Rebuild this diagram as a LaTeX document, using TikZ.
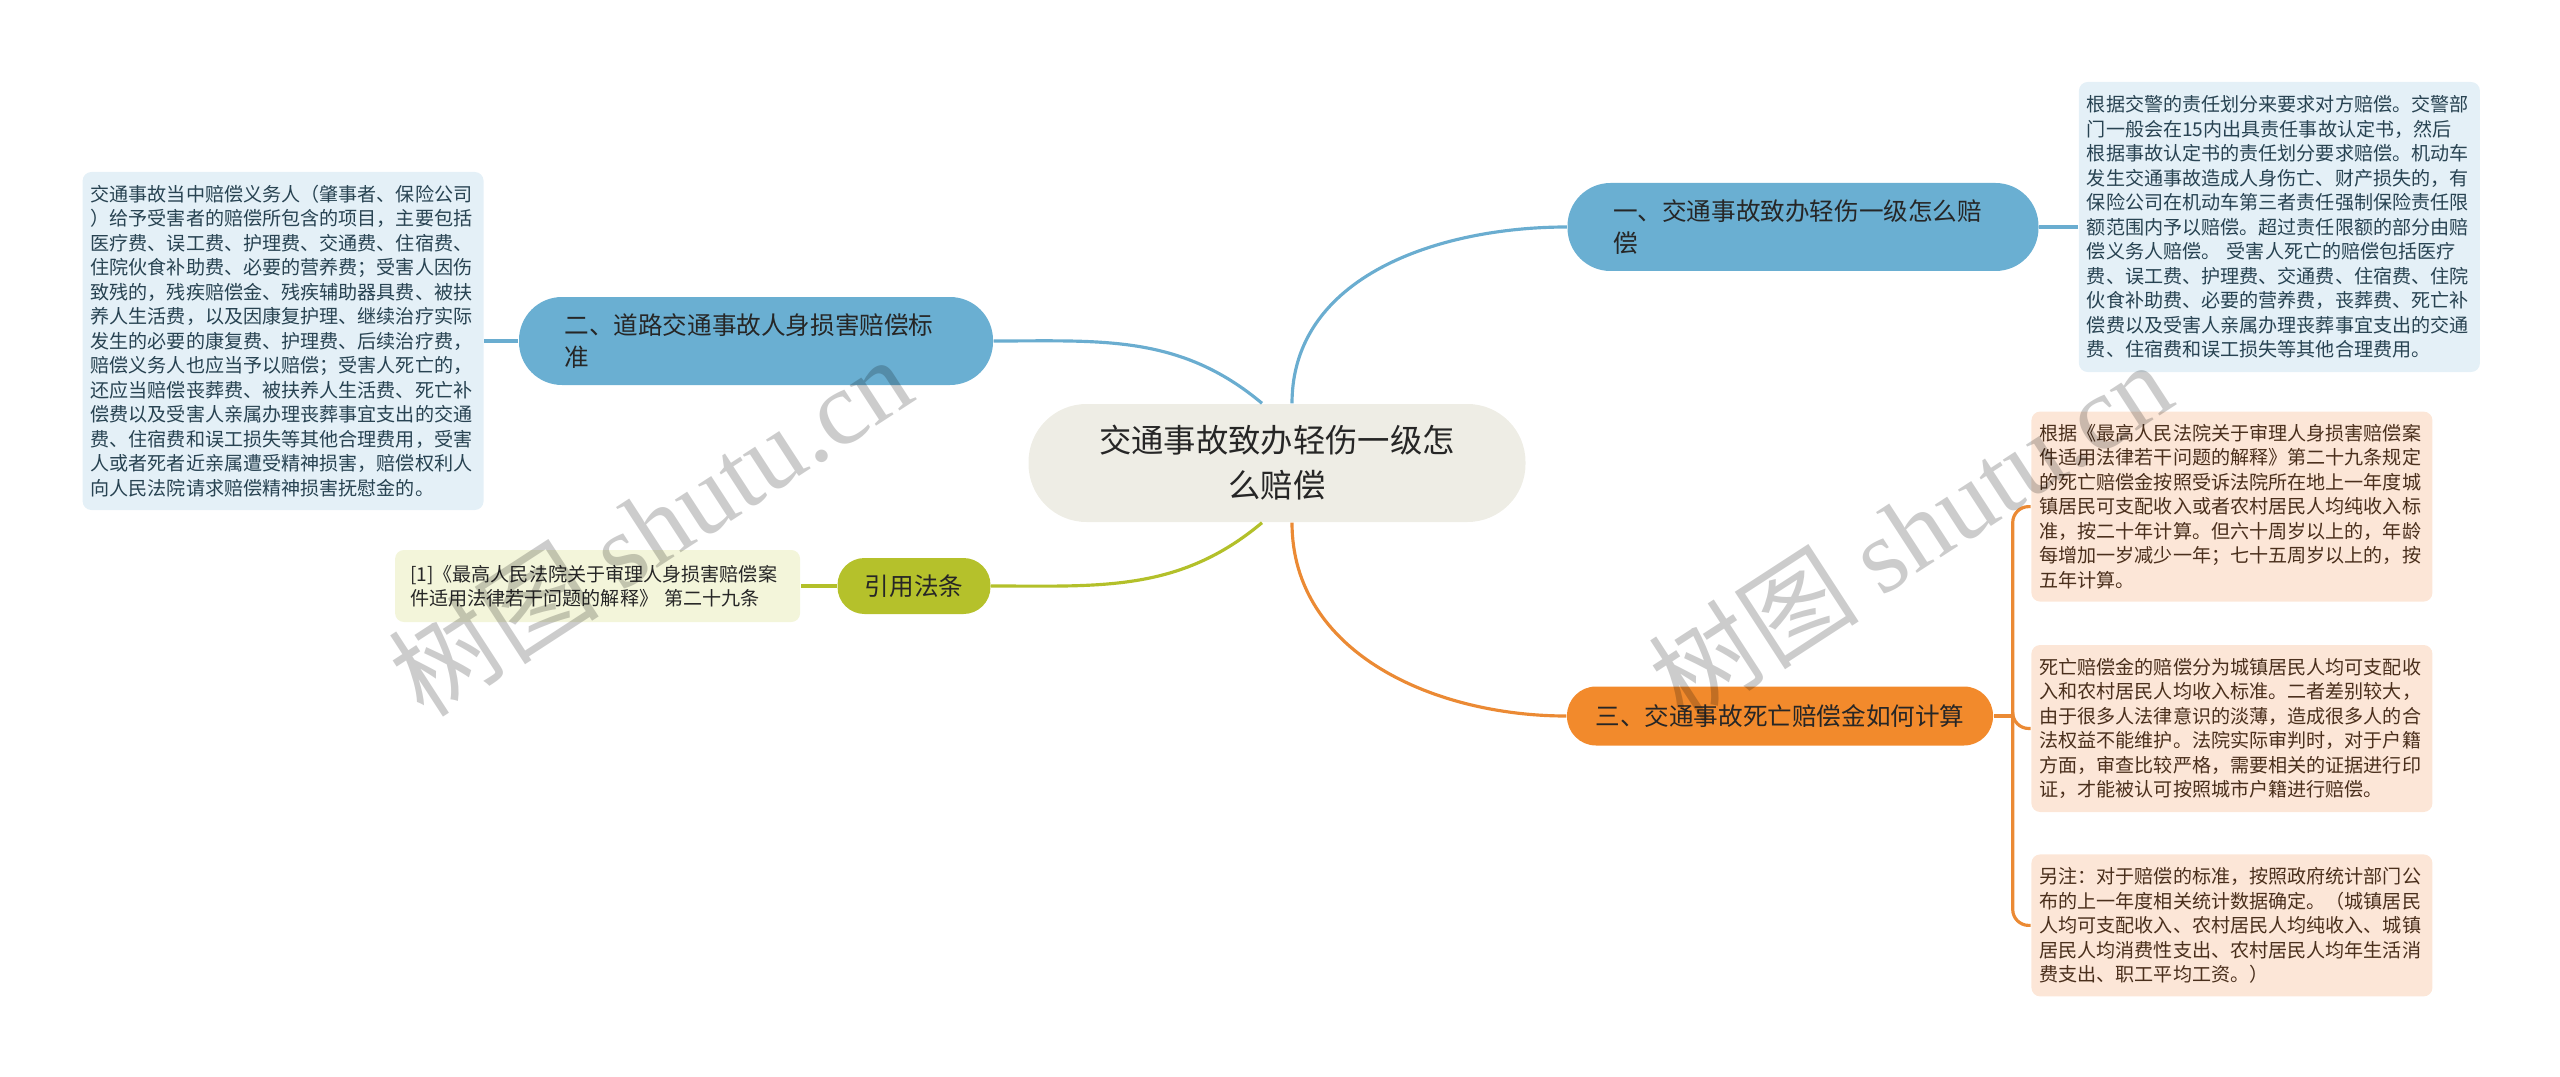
\documentclass[tikz,border=0pt]{standalone}
\usepackage{fontspec}
\setmainfont{Noto Sans CJK SC}
\newfontfamily\wmlatin{Liberation Serif}
\usetikzlibrary{positioning}
\definecolor{ink}{HTML}{262626}
\definecolor{hubfill}{HTML}{EEEDE5}
\definecolor{topicblue}{HTML}{6AAFD2}
\definecolor{lineblue}{HTML}{6AADD0}
\definecolor{leafblue}{HTML}{E4F0F7}
\definecolor{blueink}{HTML}{284352}
\definecolor{topicolive}{HTML}{B5C12B}
\definecolor{lineolive}{HTML}{B3C02A}
\definecolor{leafolive}{HTML}{F3F5DA}
\definecolor{topicorange}{HTML}{F28A2C}
\definecolor{lineorange}{HTML}{EB8A34}
\definecolor{leaforange}{HTML}{FCE6D7}
\definecolor{brownink}{HTML}{4A2F1C}

\begin{document}
\begin{tikzpicture}[
 hub/.style={fill=hubfill,text=ink,rounded corners=5.8mm,align=center,
 minimum width=49.7mm,minimum height=11.8mm,font=\fontsize{9.2}{12.8}\selectfont},
 topic/.style={fill=#1,text=ink,align=left,inner ysep=0pt,
 font=\fontsize{7}{9}\selectfont},
 leaf/.style={fill=#1,rounded corners=2.5pt,align=left,inner ysep=0pt,
 text width=38.5mm,inner xsep=0.8mm,font=\fontsize{5.43}{6.97}\selectfont},
 link/.style={draw=#1,line width=0.9pt},
 wmark/.style={text=black,opacity=0.2,rotate=33,font=\fontsize{30}{30}\selectfont},
 node distance=4mm]
 \useasboundingbox (0,0) rectangle (25.6,-10.77);
 \node[hub] (hub) at (12.77,-4.63) {交通事故致办轻伤一级怎\\么赔偿};
 \node[topic=topicblue,rounded corners=4.3mm,text width=38mm,inner xsep=4.55mm,
 minimum height=8.8mm] (t1) at (18.03,-2.27) {一、交通事故致办轻伤一级怎么赔\\偿};
 \node[topic=topicblue,rounded corners=4.3mm,text width=38.3mm,inner xsep=4.55mm,
 minimum height=8.8mm] (t2) at (7.56,-3.41) {二、道路交通事故人身损害赔偿标\\准};
 \node[topic=topicolive,rounded corners=2.7mm,minimum width=15.3mm,
 minimum height=5.6mm] (cite) at (9.14,-5.86) {引用法条};
 \node[topic=topicorange,rounded corners=2.9mm,minimum width=42.6mm,
 minimum height=5.9mm] (t3) at (17.80,-7.16) {三、交通事故死亡赔偿金如何计算};
 \node[leaf=leafblue,text=blueink,minimum height=29mm,right=3.9mm of t1] (n1)
 {根据交警的责任划分来要求对方赔偿。交警部\\
 门一般会在15内出具责任事故认定书，然后\\
 根据事故认定书的责任划分要求赔偿。机动车\\
 发生交通事故造成人身伤亡、财产损失的，有\\
 保险公司在机动车第三者责任强制保险责任限\\
 额范围内予以赔偿。超过责任限额的部分由赔\\
 偿义务人赔偿。 受害人死亡的赔偿包括医疗\\
 费、误工费、护理费、交通费、住宿费、住院\\
 伙食补助费、必要的营养费，丧葬费、死亡补\\
 偿费以及受害人亲属办理丧葬事宜支出的交通\\
 费、住宿费和误工损失等其他合理费用。};
 \node[leaf=leafblue,text=blueink,minimum height=33.8mm,left=3.4mm of t2] (n2)
 {交通事故当中赔偿义务人（肇事者、保险公司\\
 ）给予受害者的赔偿所包含的项目，主要包括\\
 医疗费、误工费、护理费、交通费、住宿费、\\
 住院伙食补助费、必要的营养费；受害人因伤\\
 致残的，残疾赔偿金、残疾辅助器具费、被扶\\
 养人生活费，以及因康复护理、继续治疗实际\\
 发生的必要的康复费、护理费、后续治疗费，\\
 赔偿义务人也应当予以赔偿；受害人死亡的，\\
 还应当赔偿丧葬费、被扶养人生活费、死亡补\\
 偿费以及受害人亲属办理丧葬事宜支出的交通\\
 费、住宿费和误工损失等其他合理费用，受害\\
 人或者死者近亲属遭受精神损害，赔偿权利人\\
 向人民法院请求赔偿精神损害抚慰金的。};
 \node[leaf=leafolive,text=ink,text width=37.5mm,inner xsep=1.5mm,
 minimum height=7.2mm,left=3.6mm of cite] (c1)
 {[1]《最高人民法院关于审理人身损害赔偿案\\
 件适用法律若干问题的解释》 第二十九条};
 \node[leaf=leaforange,text=brownink,minimum height=16.7mm,
 right=3.7mm of t3,yshift=-1.25mm] (n3b)
 {死亡赔偿金的赔偿分为城镇居民人均可支配收\\
 入和农村居民人均收入标准。二者差别较大，\\
 由于很多人法律意识的淡薄，造成很多人的合\\
 法权益不能维护。法院实际审判时，对于户籍\\
 方面，审查比较严格，需要相关的证据进行印\\
 证，才能被认可按照城市户籍进行赔偿。};
 \node[leaf=leaforange,text=brownink,minimum height=19mm,above=4.2mm of n3b] (n3a)
 {根据《最高人民法院关于审理人身损害赔偿案\\
 件适用法律若干问题的解释》第二十九条规定\\
 的死亡赔偿金按照受诉法院所在地上一年度城\\
 镇居民可支配收入或者农村居民人均纯收入标\\
 准，按二十年计算。但六十周岁以上的，年龄\\
 每增加一岁减少一年；七十五周岁以上的，按\\
 五年计算。};
 \node[leaf=leaforange,text=brownink,minimum height=14.2mm,below=4.1mm of n3b] (n3c)
 {另注：对于赔偿的标准，按照政府统计部门公\\
 布的上一年度相关统计数据确定。（城镇居民\\
 人均可支配收入、农村居民人均纯收入、城镇\\
 居民人均消费性支出、农村居民人均年生活消\\
 费支出、职工平均工资。）};
 \draw[link=lineblue] ([xshift=1.5mm]hub.north) to[out=90,in=180] (t1.west);
 \draw[link=lineblue] (t2.east) to[out=0,in=140] ([xshift=-1.5mm]hub.north);
 \draw[link=lineolive] (cite.east) to[out=0,in=-140] ([xshift=-1.5mm]hub.south);
 \draw[link=lineorange] ([xshift=1.5mm]hub.south) to[out=-90,in=180] (t3.west);
 \draw[link=lineblue] (t1.east) -- (n1.west);
 \draw[link=lineblue] (t2.west) -- (n2.east);
 \draw[link=lineolive] (cite.west) -- (c1.east);
 \coordinate[right=1.9mm of t3.east] (fork);
 \draw[link=lineorange] (t3.east) -- (fork);
 \foreach \n in {n3a,n3b,n3c}
 \draw[link=lineorange,rounded corners=1.6mm] (fork) |- (\n.west);
 \node[wmark] (wm1) at (6.50,-5.26) {树图 {\wmlatin shutu.cn}};
 \node[wmark] (wm2) at (19.10,-5.31) {树图 {\wmlatin shutu.cn}};
\end{tikzpicture}
\end{document}
